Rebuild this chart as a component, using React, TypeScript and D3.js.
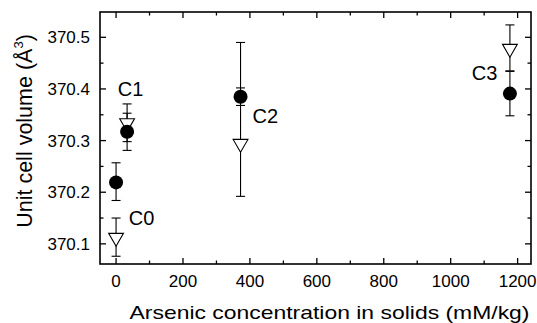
import * as d3 from 'd3'
import { useEffect, useRef } from 'react'

// sample points (x in mM/kg)
const sampleX = [0, 33, 372, 1177]
const sampleNames = ['C0', 'C1', 'C2', 'C3']

// filled circles
const circleY = [370.219, 370.317, 370.385, 370.391]
const circleHigh = [370.257, 370.353, 370.402, 370.434]
const circleLow = [370.184, 370.281, 370.368, 370.348]

// open triangles
const triY = [370.112, 370.334, 370.294, 370.478]
const triHigh = [370.15, 370.371, 370.49, 370.524]
const triLow = [370.076, 370.298, 370.192, 370.435]

// label anchors, in data units
const labelX = [38, 5, 408, 1063]
const labelY = [370.15, 370.4, 370.347, 370.43]

const xTicks = [0, 200, 400, 600, 800, 1000, 1200]
const yTicks = [370.1, 370.2, 370.3, 370.4, 370.5]

const W = 537
const H = 323
const margin = { top: 12, right: 6, bottom: 59, left: 100 }
const FONT = "'Liberation Sans', Arial, Helvetica, sans-serif"

const drawChart = (el: SVGSVGElement) => {
    const width = W - margin.left - margin.right
    const height = H - margin.top - margin.bottom

    const x = d3.scaleLinear().domain([-48, 1240]).range([0, width])
    const y = d3.scaleLinear().domain([370.061, 370.549]).range([height, 0])

    const svg = d3.select(el)
    svg.selectAll('*').remove()
    const g = svg.append('g').attr('transform', `translate(${margin.left},${margin.top})`)

    const xMinor = d3.range(0, 1201, 100).filter(v => !xTicks.includes(v))
    const yMinor = [370.15, 370.25, 370.35, 370.45]

    // ticks, pointing inward on all four sides
    const major = 6
    const minor = 3.5
    const tickG = g.append('g').attr('stroke', '#000').attr('stroke-width', 1.3)
    const addX = (vals: number[], len: number) => {
        vals.forEach(v => {
            tickG.append('line').attr('x1', x(v)).attr('x2', x(v)).attr('y1', height).attr('y2', height - len)
            tickG.append('line').attr('x1', x(v)).attr('x2', x(v)).attr('y1', 0).attr('y2', len)
        })
    }
    const addY = (vals: number[], len: number) => {
        vals.forEach(v => {
            tickG.append('line').attr('y1', y(v)).attr('y2', y(v)).attr('x1', 0).attr('x2', len)
            tickG.append('line').attr('y1', y(v)).attr('y2', y(v)).attr('x1', width).attr('x2', width - len)
        })
    }
    addX(xTicks, major)
    addX(xMinor, minor)
    addY(yTicks, major)
    addY(yMinor, minor)

    g.append('rect')
        .attr('width', width)
        .attr('height', height)
        .attr('fill', 'none')
        .attr('stroke', '#000')
        .attr('stroke-width', 1.6)

    // tick labels
    g.append('g')
        .selectAll('text')
        .data(xTicks)
        .join('text')
        .attr('x', d => x(d))
        .attr('y', height + 23)
        .attr('text-anchor', 'middle')
        .attr('font-family', FONT)
        .attr('font-size', 17)
        .text(d => d)

    g.append('g')
        .selectAll('text')
        .data(yTicks)
        .join('text')
        .attr('x', -10)
        .attr('y', d => y(d) + 6)
        .attr('text-anchor', 'end')
        .attr('font-family', FONT)
        .attr('font-size', 17)
        .text(d => d.toFixed(1))

    // axis titles
    g.append('text')
        .attr('x', width / 2 + 14)
        .attr('y', height + 55)
        .attr('text-anchor', 'middle')
        .attr('font-family', FONT)
        .attr('font-size', 19)
        .attr('textLength', 400)
        .attr('lengthAdjust', 'spacingAndGlyphs')
        .text('Arsenic concentration in solids (mM/kg)')

    const yt = g.append('text')
        .attr('transform', `translate(${-68},${131 - margin.top}) rotate(-90)`)
        .attr('text-anchor', 'middle')
        .attr('font-family', FONT)
        .attr('font-size', 21.5)
    yt.append('tspan').text('Unit cell volume (Å')
    yt.append('tspan').attr('font-size', 13).attr('dy', -9).text('3')
    yt.append('tspan').attr('dy', 9).text(')')

    // error bars
    const errG = g.append('g').attr('stroke', '#000').attr('stroke-width', 1.1)
    const drawErr = (xs: number[], hi: number[], lo: number[]) => {
        xs.forEach((xv, i) => {
            const cx = x(xv)
            errG.append('line').attr('x1', cx).attr('x2', cx).attr('y1', y(hi[i])).attr('y2', y(lo[i]))
            errG.append('line').attr('x1', cx - 4.5).attr('x2', cx + 4.5).attr('y1', y(hi[i])).attr('y2', y(hi[i]))
            errG.append('line').attr('x1', cx - 4.5).attr('x2', cx + 4.5).attr('y1', y(lo[i])).attr('y2', y(lo[i]))
        })
    }
    drawErr(sampleX, triHigh, triLow)
    drawErr(sampleX, circleHigh, circleLow)

    // open triangles
    const tri = d3.symbol().type(d3.symbolTriangle).size(95)
    g.append('g')
        .selectAll('path')
        .data(triY)
        .join('path')
        .attr('d', tri)
        .attr('transform', (d, i) => `translate(${x(sampleX[i])},${y(d)}) rotate(180)`)
        .attr('fill', '#fff')
        .attr('stroke', '#000')
        .attr('stroke-width', 1.1)

    // filled circles
    g.append('g')
        .selectAll('circle')
        .data(circleY)
        .join('circle')
        .attr('cx', (_, i) => x(sampleX[i]))
        .attr('cy', d => y(d))
        .attr('r', 7)
        .attr('fill', '#000')

    // sample labels
    g.append('g')
        .selectAll('text')
        .data(sampleNames)
        .join('text')
        .attr('x', (_, i) => x(labelX[i]))
        .attr('y', (_, i) => y(labelY[i]) + 7)
        .attr('font-family', FONT)
        .attr('font-size', 20)
        .text(d => d)
}

const App = () => {
    const ref = useRef<SVGSVGElement>(null)

    useEffect(() => {
        if (ref.current) drawChart(ref.current)
    }, [])

    return (
        <svg
            ref={ref}
            width={W}
            height={H}
            style={{ position: 'absolute', left: 0, top: 0, background: '#fff' }}
        />
    )
}

export default App
